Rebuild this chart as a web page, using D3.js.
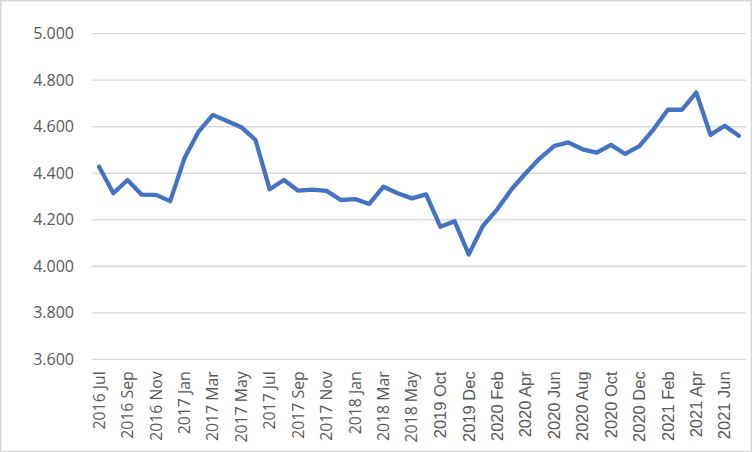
<!DOCTYPE html>
<html>
<head>
<meta charset="utf-8">
<script src="https://cdn.jsdelivr.net/npm/d3@7"></script>
<style>
  html, body { margin: 0; padding: 0; background: #fff; }
  svg { display: block; }
</style>
</head>
<body>
<svg id="chart" width="752" height="452"></svg>
<script>
const categories = [
  "2016 Jul","2016 Aug","2016 Sep","2016 Oct","2016 Nov","2016 Dec",
  "2017 Jan","2017 Feb","2017 Mar","2017 Apr","2017 May","2017 Jun",
  "2017 Jul","2017 Aug","2017 Sep","2017 Oct","2017 Nov","2017 Dec",
  "2018 Jan","2018 Feb","2018 Mar","2018 Apr","2018 May","2018 Jun",
  "2019 Oct","2019 Nov","2019 Dec",
  "2020 Jan","2020 Feb","2020 Mar","2020 Apr","2020 May","2020 Jun",
  "2020 Jul","2020 Aug","2020 Sep","2020 Oct","2020 Nov","2020 Dec",
  "2021 Jan","2021 Feb","2021 Mar","2021 Apr","2021 May","2021 Jun","2021 Jul"
];
const values = [
  4.428, 4.314, 4.371, 4.308, 4.307, 4.280,
  4.464, 4.579, 4.651, 4.625, 4.598, 4.543,
  4.331, 4.371, 4.325, 4.330, 4.324, 4.285,
  4.289, 4.268, 4.342, 4.314, 4.292, 4.309,
  4.170, 4.194, 4.051,
  4.174, 4.245, 4.330, 4.400, 4.464, 4.517,
  4.533, 4.503, 4.489, 4.522, 4.483, 4.517,
  4.589, 4.673, 4.673, 4.747, 4.565, 4.604, 4.561
];
const yTicks = [3.6, 3.8, 4.0, 4.2, 4.4, 4.6, 4.8, 5.0];
const xTickLabels = categories.filter((d, i) => i % 2 === 0);

(function () {
const svg = d3.select("#chart");
const W = 752, H = 452;
const mLeft = 92, mRight = 746, mTop = 33.7, mBottom = 359.3;

// outer frame
svg.append("rect")
  .attr("x", 0.75).attr("y", 0.75)
  .attr("width", W - 1.5).attr("height", H - 1.5)
  .attr("fill", "#fff").attr("stroke", "#d9d9d9").attr("stroke-width", 1.5);

const x = d3.scaleBand().domain(categories).range([mLeft, mRight]).padding(0);
const y = d3.scaleLinear().domain([3.6, 5.0]).range([mBottom, mTop]);

// gridlines
svg.append("g").selectAll("line")
  .data(yTicks)
  .join("line")
  .attr("x1", mLeft).attr("x2", mRight)
  .attr("y1", d => y(d)).attr("y2", d => y(d))
  .attr("stroke", "#d9d9d9").attr("stroke-width", 1.3);

// y axis labels
const yAxis = d3.axisLeft(y).tickValues(yTicks).tickFormat(d3.format(".3f")).tickSize(0).tickPadding(18);
const gy = svg.append("g").attr("transform", `translate(${mLeft},0)`).call(yAxis);
gy.select(".domain").remove();
gy.selectAll("text")
  .attr("fill", "#595959")
  .style("font-family", "'Open Sans', sans-serif")
  .style("font-size", "16px");

// x axis labels
const xAxis = d3.axisBottom(x).tickValues(xTickLabels).tickSize(0);
const gx = svg.append("g").attr("transform", `translate(0,${mBottom})`).call(xAxis);
gx.select(".domain").remove();
gx.selectAll(".tick text")
  .attr("transform", "rotate(-90)")
  .attr("x", -12).attr("y", 0).attr("dy", "0.35em")
  .attr("text-anchor", "end")
  .attr("fill", "#595959")
  .style("font-family", d => categories.indexOf(d) < 24 ? "'Open Sans', sans-serif" : "'Liberation Sans', Arial, sans-serif")
  .style("font-size", d => categories.indexOf(d) < 24 ? "15.8px" : "16.5px");

// line
const line = d3.line()
  .x((d, i) => x(categories[i]) + x.bandwidth() / 2)
  .y(d => y(d));

svg.append("path")
  .datum(values)
  .attr("d", line)
  .attr("fill", "none")
  .attr("stroke", "#4472C4")
  .attr("stroke-width", 4.3)
  .attr("stroke-linejoin", "round")
  .attr("stroke-linecap", "round");
})();
</script>
</body>
</html>
